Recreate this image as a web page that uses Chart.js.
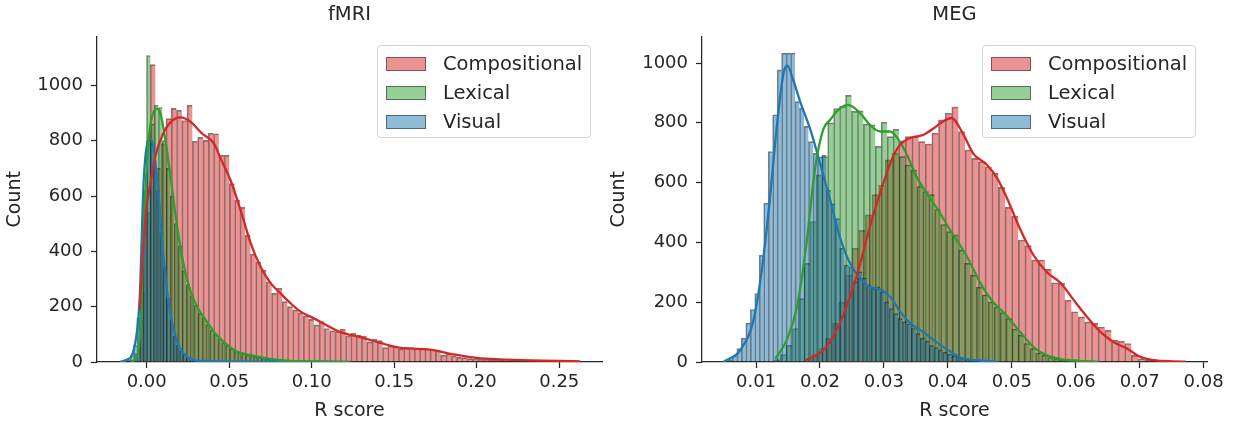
<!DOCTYPE html>
<html>
<head>
<meta charset="utf-8">
<script src="https://cdn.jsdelivr.net/npm/chart.js@4.4.1/dist/chart.umd.min.js"></script>
<style>
  html, body { margin: 0; padding: 0; background: #fff; }
  #wrap { position: relative; width: 1234px; height: 425px; font-family: "DejaVu Sans", sans-serif; color: #262626; }
  canvas { position: absolute; top: 0; }
  .legend { position: absolute; top: 45px; width: 212px; height: 91px; border: 1px solid #d4d4d4; border-radius: 4px; background: rgba(255, 255, 255, 0.8); }
  .legend .swatch { position: absolute; left: 8px; width: 40px; height: 14px; box-sizing: border-box; border: 1px solid rgba(20, 20, 20, 0.5); }
  .legend .label { position: absolute; left: 65px; font-size: 19.5px; line-height: 22px; white-space: nowrap; }
</style>
</head>
<body>
<div id="wrap">
  <canvas id="fmri" width="604" height="425" style="left:0"></canvas>
  <canvas id="meg" width="630" height="425" style="left:604px"></canvas>
</div>
<script>
const seriesNames = ["Compositional", "Lexical", "Visual"]
const seriesColors = ["214, 39, 40", "44, 160, 44", "31, 119, 180"]

// fMRI panel ([start, width] of the bins, then counts per bin)
const fmriCompBin = [-0.0043, 0.0032]
const fmriCompCounts = [250, 540, 1075, 700, 790, 880, 917, 910, 873, 928, 798, 812, 801, 827, 825, 747, 747, 645, 585, 559,
  458, 390, 362, 332, 290, 248, 266, 218, 200, 188, 178, 167, 154, 134, 146, 121, 113, 110, 118, 94,
  104, 97, 94, 73, 82, 77, 52, 58, 58, 46, 53, 52, 48, 49, 48, 46, 43, 25, 29, 22,
  17, 16, 12, 11, 10, 10, 7, 7, 6, 5, 4, 4, 3, 3, 2, 3, 2, 2, 2, 1, 1, 2, 1, 1]
const fmriLexBin = [-0.0097, 0.0024]
const fmriLexCounts = [5, 30, 150, 470, 1108, 860, 928, 920, 800, 700, 600, 500, 420, 330, 280, 240, 205, 175, 160, 135,
  115, 100, 85, 70, 60, 48, 40, 34, 30, 26, 22, 18, 16, 13, 11, 9, 8, 6, 5, 4,
  4, 3, 3, 2, 2, 2, 1, 1, 1, 1, 1, 0, 1, 0, 0, 1]
const fmriVisBin = [-0.016, 0.002]
const fmriVisCounts = [1, 3, 8, 25, 60, 160, 390, 620, 800, 790, 720, 620, 470, 340, 230, 150, 95, 62, 40, 27,
  18, 12, 9, 6, 5, 4, 3, 3, 2, 2, 1, 1, 1, 1, 1, 1, 1, 1, 0, 1,
  1, 0, 1, 0, 1, 0, 0, 1, 0, 0, 1, 0, 0, 0, 1, 0, 0, 0, 0, 1, 0, 0, 0, 0, 0, 0, 0, 1]

const fmriCompKdeX = [-0.0043, -0.0026, -0.0006, 0.0024, 0.0054, 0.0095, 0.0145, 0.0206, 0.0266, 0.0337, 0.0407, 0.0448,
  0.0508, 0.0569, 0.0630, 0.0690, 0.0751, 0.0811, 0.0872, 0.0932, 0.0993, 0.1053, 0.1174, 0.1295, 0.1416, 0.1538,
  0.1659, 0.1737, 0.1840, 0.1961, 0.2082, 0.2264, 0.2506, 0.2627]
const fmriCompKdeY = [190, 361, 531, 652, 747, 819, 867, 884, 868, 825, 790, 736,
  657, 549, 430, 344, 285, 248, 212, 182, 164, 145, 108, 90, 69, 51,
  47, 43, 29, 18, 11, 7, 4, 2]
const fmriLexKdeX = [-0.0097, -0.0056, -0.0036, -0.0020, 0.0004, 0.0024, 0.0060, 0.0080, 0.0110, 0.0150, 0.0190, 0.0230,
  0.0270, 0.0310, 0.0370, 0.0420, 0.0490, 0.0550, 0.0630, 0.0750, 0.0870, 0.1050, 0.1230]
const fmriLexKdeY = [0, 25, 141, 450, 740, 862, 915, 905, 815, 645, 468, 335,
  248, 195, 141, 100, 61, 37, 25, 11, 4, 2, 0]
const fmriVisKdeX = [-0.0163, -0.0120, -0.0079, -0.0042, -0.0018, 0.0024, 0.0067, 0.0097, 0.0133, 0.0188, 0.0248, 0.0327, 0.0630, 0.1235]
const fmriVisKdeY = [0, 8, 43, 235, 657, 808, 646, 415, 213, 69, 18, 4, 1, 0]

// MEG panel
const megCompBin = [0.017737, 0.00104]
const megCompCounts = [10, 25, 45, 80, 130, 200, 290, 380, 440, 492, 560, 592, 676, 698, 740, 754, 754, 737, 729, 765,
  810, 832, 853, 771, 709, 681, 670, 653, 631, 584, 517, 488, 408, 389, 341, 341, 310, 265, 263, 207,
  168, 151, 134, 129, 117, 106, 73, 70, 62, 22, 11, 7, 4, 3, 2, 1, 1]
const megLexBin = [0.01284, 0.00093]
const megLexCounts = [8, 25, 56, 112, 212, 330, 470, 626, 687, 800, 848, 855, 892, 838, 840, 796, 793, 721, 802, 754,
  778, 687, 659, 642, 587, 570, 560, 510, 460, 436, 425, 374, 330, 290, 250, 224, 201, 184, 165, 145,
  110, 89, 62, 45, 30, 22, 15, 10, 7, 5, 4, 3, 2, 1, 1]
const megVisBin = [0.0049, 0.0007]
const megVisCounts = [3, 8, 20, 45, 80, 130, 175, 229, 357, 531, 704, 827, 977, 1033, 1033, 1033, 871, 849, 788, 737,
  698, 686, 692, 574, 529, 480, 380, 324, 318, 268, 302, 280, 257, 246, 251, 235, 200, 179, 162, 145,
  134, 128, 112, 95, 80, 70, 55, 48, 40, 32, 26, 20, 16, 12, 9, 7, 5, 4, 3, 2, 2, 1, 1]

const megCompKdeX = [0.0177, 0.0205, 0.0226, 0.0247, 0.0263, 0.0278, 0.0294, 0.0310, 0.0325, 0.0341, 0.0362, 0.0378,
  0.0393, 0.0406, 0.0424, 0.0440, 0.0461, 0.0477, 0.0492, 0.0513, 0.0534, 0.0555, 0.0576, 0.0597, 0.0618, 0.0639,
  0.0659, 0.0680, 0.0701, 0.0722, 0.0753, 0.0772]
const megCompKdeY = [6, 39, 106, 218, 330, 452, 564, 665, 726, 749, 760, 782,
  805, 816, 762, 696, 660, 615, 550, 445, 357, 300, 265, 207, 150, 100,
  67, 45, 17, 6, 2, 1]
const megLexKdeX = [0.0130, 0.0148, 0.0164, 0.0179, 0.0192, 0.0205, 0.0216, 0.0229, 0.0244, 0.0263, 0.0278, 0.0294,
  0.0310, 0.0323, 0.0336, 0.0351, 0.0367, 0.0385, 0.0401, 0.0430, 0.0451, 0.0471, 0.0492, 0.0513, 0.0534, 0.0555,
  0.0576, 0.0607, 0.0636]
const megLexKdeY = [11, 73, 184, 397, 642, 777, 810, 844, 860, 832, 793, 771,
  771, 743, 693, 620, 564, 508, 450, 352, 263, 200, 155, 100, 50, 22,
  10, 4, 1]
const megVisKdeX = [0.0049, 0.0075, 0.0096, 0.0109, 0.0122, 0.0132, 0.0143, 0.0149, 0.0158, 0.0169, 0.0185, 0.0200,
  0.0216, 0.0231, 0.0247, 0.0263, 0.0278, 0.0294, 0.0310, 0.0325, 0.0341, 0.0362, 0.0383, 0.0404, 0.0419, 0.0451, 0.0477]
const megVisKdeY = [0, 39, 140, 307, 553, 777, 966, 991, 944, 871, 777, 665,
  542, 419, 330, 279, 251, 243, 218, 170, 130, 100, 65, 35, 15, 5, 1]

const fmriXTicks = [0, 0.05, 0.1, 0.15, 0.2, 0.25]
const megXTicks = [0.01, 0.02, 0.03, 0.04, 0.05, 0.06, 0.07, 0.08]
const countTicks = [0, 200, 400, 600, 800, 1000]

const ink = "#262626"
const family = "'DejaVu Sans', sans-serif"

function rgba(rgb, a) {
  return `rgba(${rgb}, ${a})`
}

function histDataset(idx, counts, bin, axisId) {
  const [start, width] = bin
  return {
    type: "bar",
    label: seriesNames[idx],
    xAxisID: axisId,
    yAxisID: "y",
    order: 3 - idx,
    data: counts.map((c, i) => ({ x: start + width * (i + 0.5), y: c })),
    backgroundColor: rgba(seriesColors[idx], 0.5),
    borderColor: "rgba(20, 20, 20, 0.55)",
    borderWidth: { top: 1, left: 1, right: 0, bottom: 0 },
    grouped: false,
    barPercentage: 1,
    categoryPercentage: 1
  }
}

function kdeDataset(idx, xs, ys) {
  return {
    type: "line",
    label: seriesNames[idx] + " kde",
    xAxisID: "x",
    yAxisID: "y",
    order: 0,
    data: xs.map((x, i) => ({ x, y: ys[i] })),
    borderColor: rgba(seriesColors[idx], 1),
    borderWidth: 2.3,
    pointRadius: 0,
    fill: false,
    cubicInterpolationMode: "monotone"
  }
}

function tickList(values) {
  return (scale) => {
    scale.ticks = values.map((v) => ({ value: v }))
  }
}

function buildScales(p) {
  const hidden = { type: "linear", display: false, min: p.xMin, max: p.xMax, offset: false }
  const axisGrid = { display: true, drawOnChartArea: false, drawTicks: true, tickLength: 6, tickWidth: 1.25, color: ink, offset: false }
  const axisBorder = { display: true, color: ink, width: 1.25 }
  return {
    x: {
      type: "linear",
      position: "bottom",
      min: p.xMin,
      max: p.xMax,
      offset: false,
      afterBuildTicks: tickList(p.xTicks),
      ticks: { autoSkip: false, maxRotation: 0, padding: 4, color: ink, font: { size: 18, family }, callback: (v) => Number(v).toFixed(2) },
      grid: axisGrid,
      border: axisBorder,
      title: { display: true, text: "R score", color: ink, font: { size: 19, family }, padding: { top: 0, bottom: 3 } },
      afterFit: (s) => { s.height = 63 }
    },
    hr: { ...hidden },
    hg: { ...hidden },
    hb: { ...hidden },
    y: {
      type: "linear",
      position: "left",
      min: 0,
      max: p.yMax,
      afterBuildTicks: tickList(countTicks),
      ticks: { padding: 8, color: ink, font: { size: 18, family }, callback: (v) => String(v) },
      grid: axisGrid,
      border: axisBorder,
      title: { display: true, text: "Count", color: ink, font: { size: 19, family }, padding: { top: 4, bottom: 0 } },
      afterFit: (s) => { s.width = p.yWidth }
    }
  }
}

function drawPanel(canvasId, p, hists, kdes) {
  const datasets = []
  kdes.forEach((k, i) => datasets.push(kdeDataset(i, k[0], k[1])))
  hists.forEach((h, i) => datasets.push(histDataset(i, h[0], h[1], ["hr", "hg", "hb"][i])))
  return new Chart(document.getElementById(canvasId), {
    type: "bar",
    data: { datasets },
    options: {
      responsive: false,
      animation: false,
      devicePixelRatio: 1,
      layout: { padding: { left: 0, right: p.padRight, top: 0, bottom: 0 } },
      plugins: {
        legend: { display: false },
        tooltip: { enabled: false },
        title: {
          display: true,
          fullSize: false,
          text: p.title,
          color: ink,
          font: { size: 19.5, weight: "normal", family },
          padding: { top: 3, bottom: 10 }
        }
      },
      scales: buildScales(p)
    }
  })
}

function buildLegend(left) {
  const box = document.createElement("div")
  box.className = "legend"
  box.style.left = left + "px"
  seriesNames.forEach((name, i) => {
    const cy = 18 + i * 29
    const sw = document.createElement("span")
    sw.className = "swatch"
    sw.style.top = (cy - 7) + "px"
    sw.style.background = rgba(seriesColors[i], 0.5)
    const label = document.createElement("span")
    label.className = "label"
    label.style.top = (cy - 11) + "px"
    label.textContent = name
    box.append(sw, label)
  })
  document.getElementById("wrap").appendChild(box)
}

drawPanel("fmri",
  { title: "fMRI", xMin: -0.0301, xMax: 0.2759, xTicks: fmriXTicks, yMax: 1177, yWidth: 97, padRight: 2 },
  [[fmriCompCounts, fmriCompBin], [fmriLexCounts, fmriLexBin], [fmriVisCounts, fmriVisBin]],
  [[fmriCompKdeX, fmriCompKdeY], [fmriLexKdeX, fmriLexKdeY], [fmriVisKdeX, fmriVisKdeY]])

drawPanel("meg",
  { title: "MEG", xMin: 0.00155, xMax: 0.08053, xTicks: megXTicks, yMax: 1089, yWidth: 98, padRight: 27 },
  [[megCompCounts, megCompBin], [megLexCounts, megLexBin], [megVisCounts, megVisBin]],
  [[megCompKdeX, megCompKdeY], [megLexKdeX, megLexKdeY], [megVisKdeX, megVisKdeY]])

buildLegend(377)
buildLegend(982)
</script>
</body>
</html>
